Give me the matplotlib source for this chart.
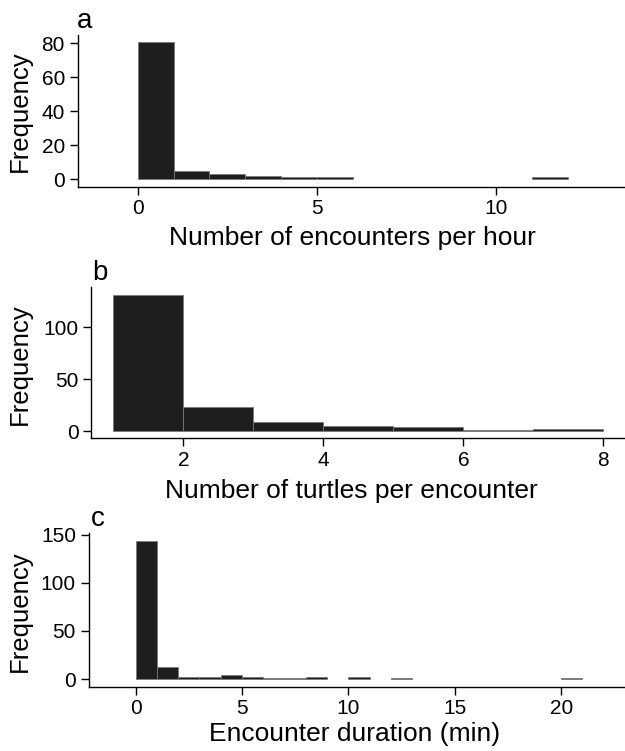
import numpy as np
import matplotlib
matplotlib.use("Agg")
import matplotlib.pyplot as plt

plt.rcParams['font.family'] = ['Liberation Sans', 'DejaVu Sans']

# histogram counts (bin width 1)
enc_edges = np.arange(0, 13)      # encounters per hour
enc_counts = np.array([81, 5, 3, 2, 1, 1, 0, 0, 0, 0, 0, 1])

turtle_edges = np.arange(1, 9)    # turtles per encounter
turtle_counts = np.array([131, 23, 9, 5, 4, 1, 2])

dur_edges = np.arange(0, 22)      # encounter duration (min)
dur_counts = np.array([143, 13, 2, 2, 4, 2, 1, 1, 2, 0, 2, 0, 1,
                       0, 0, 0, 0, 0, 0, 0, 1])

W, H = 625, 751


def fx(px):
    return px / W


def fy(py):
    return 1 - py / H


fig = plt.figure(figsize=(W / 100, H / 100), dpi=100)

panels = [
    dict(edges=enc_edges, counts=enc_counts, letter='a',
         box=(77.5, 35, 625, 186.7), xlim=(-1.68, 13.6), ylim=(-4.5, 85),
         xticks=[0, 5, 10], yticks=[0, 20, 40, 60, 80],
         xlabel='Number of encounters per hour',
         letter_pos=(77, 28.3), xlabel_pos=(352, 245), ylabel_pos=(20, 111)),
    dict(edges=turtle_edges, counts=turtle_counts, letter='b',
         box=(90.9, 286.7, 625, 438.3), xlim=(0.679, 8.31), ylim=(-7.0, 138.75),
         xticks=[2, 4, 6, 8], yticks=[0, 50, 100],
         xlabel='Number of turtles per encounter',
         letter_pos=(92, 280), xlabel_pos=(351, 498), ylabel_pos=(20, 364)),
    dict(edges=dur_edges, counts=dur_counts, letter='c',
         box=(88.5, 533.3, 625, 686.7), xlim=(-2.21, 23.0), ylim=(-8.0, 151.5),
         xticks=[0, 5, 10, 15, 20], yticks=[0, 50, 100, 150],
         xlabel='Encounter duration (min)',
         letter_pos=(91, 526), xlabel_pos=(355, 741.5), ylabel_pos=(20, 611)),
]

for p in panels:
    x0, y0, x1, y1 = p['box']
    ax = fig.add_axes([fx(x0), fy(y1), fx(x1 - x0), (y1 - y0) / H])

    left = p['edges'][:-1]
    keep = p['counts'] > 0
    ax.bar(left[keep], p['counts'][keep], width=1, align='edge',
           color='#1e1e1e', edgecolor='#7a7a7a', linewidth=0.6)

    ax.set_xlim(*p['xlim'])
    ax.set_ylim(*p['ylim'])
    ax.set_xticks(p['xticks'])
    ax.set_yticks(p['yticks'])

    for s in ['top', 'right']:
        ax.spines[s].set_visible(False)
    for s in ['left', 'bottom']:
        ax.spines[s].set_linewidth(1.0)
    ax.tick_params(direction='out', length=5.5, width=1.0, labelsize=15, pad=3.5)

    ax.set_xlabel(p['xlabel'], fontsize=19, va='baseline')
    ax.xaxis.set_label_coords(fx(p['xlabel_pos'][0]), fy(p['xlabel_pos'][1]),
                              transform=fig.transFigure)
    ax.set_ylabel('Frequency', fontsize=18.5, va='center')
    ax.yaxis.set_label_coords(fx(p['ylabel_pos'][0]), fy(p['ylabel_pos'][1]),
                              transform=fig.transFigure)

    fig.text(fx(p['letter_pos'][0]), fy(p['letter_pos'][1]), p['letter'],
             fontsize=20, ha='left', va='baseline')

fig.savefig('out.png', dpi=100)
